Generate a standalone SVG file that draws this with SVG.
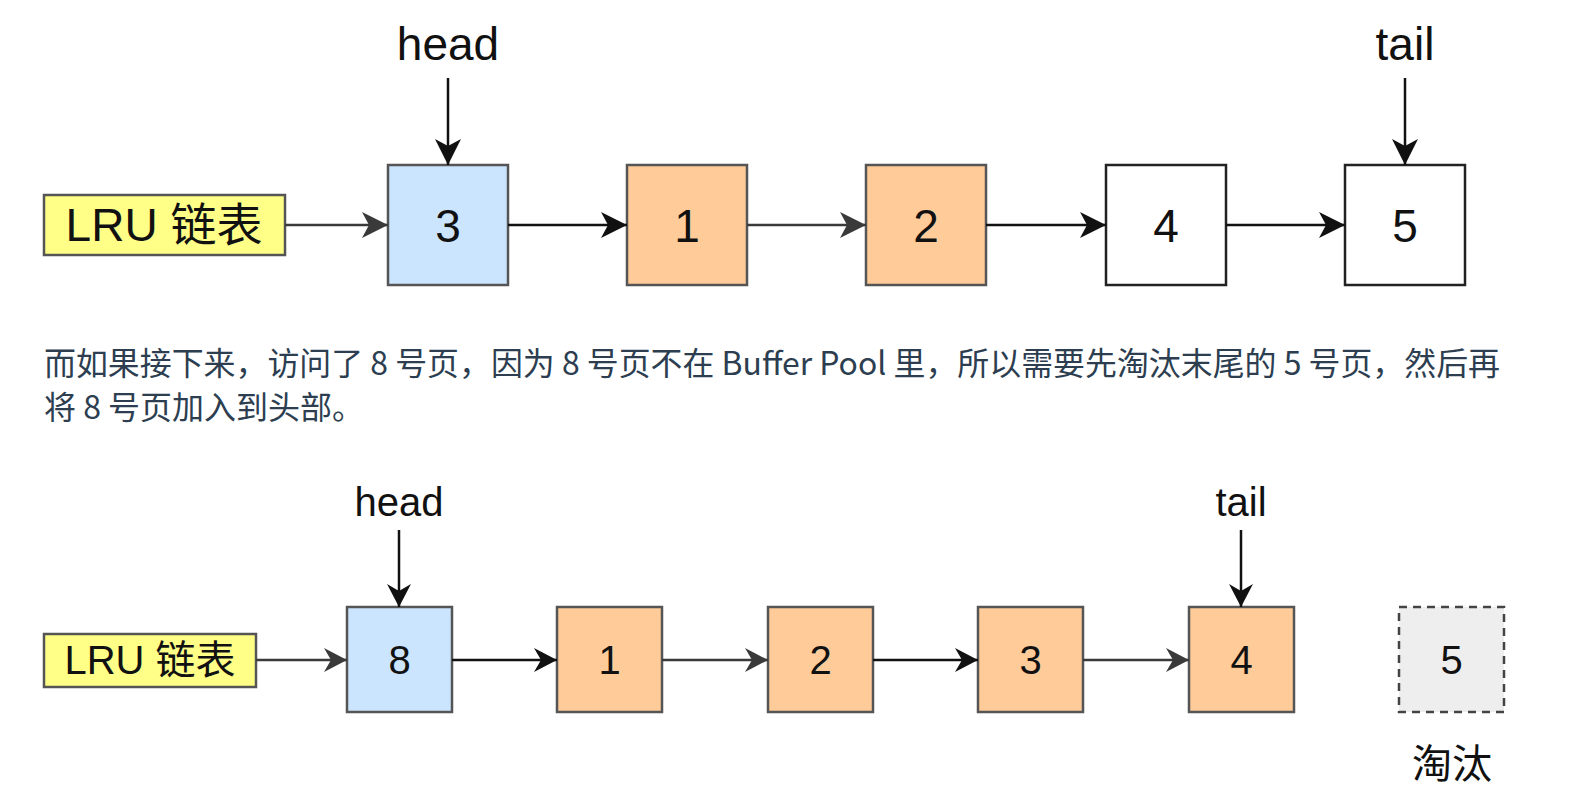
<svg xmlns="http://www.w3.org/2000/svg" width="1572" height="804" viewBox="0 0 1572 804">
<defs>
<marker id="ahk" viewBox="-28 -14 30 28" refX="0" refY="0" markerWidth="30" markerHeight="28" markerUnits="userSpaceOnUse" orient="auto">
<path d="M0,0 L-26,-13 L-19,0 L-26,13 Z" fill="#111"/>
</marker>
<marker id="ahg" viewBox="-28 -14 30 28" refX="0" refY="0" markerWidth="30" markerHeight="28" markerUnits="userSpaceOnUse" orient="auto">
<path d="M0,0 L-26,-13 L-19,0 L-26,13 Z" fill="#3a3a3a"/>
</marker>
<marker id="bhk" viewBox="-24 -13 26 26" refX="0" refY="0" markerWidth="26" markerHeight="26" markerUnits="userSpaceOnUse" orient="auto">
<path d="M0,0 L-23,-12 L-16,0 L-23,12 Z" fill="#111"/>
</marker>
<marker id="bhg" viewBox="-24 -13 26 26" refX="0" refY="0" markerWidth="26" markerHeight="26" markerUnits="userSpaceOnUse" orient="auto">
<path d="M0,0 L-23,-12 L-16,0 L-23,12 Z" fill="#3a3a3a"/>
</marker>
</defs>
<style>
.lab{font-family:"Liberation Sans","Noto Sans CJK SC",sans-serif;fill:#111;text-anchor:middle}
.t1{font-size:46px}
.t2{font-size:40px}
.blue{fill:#cce5ff;stroke:#555;stroke-width:2.5}
.org{fill:#ffcc99;stroke:#555;stroke-width:2.5}
.wht{fill:#fff;stroke:#222;stroke-width:2.5}
.yel{fill:#ffff88;stroke:#555;stroke-width:2.5}
.dsh{fill:#eeeeee;stroke:#444;stroke-width:2.5;stroke-dasharray:8 6}
.ck{stroke:#111;stroke-width:2.5;fill:none}
.cg{stroke:#3a3a3a;stroke-width:2.5;fill:none}
.para{font-family:"Noto Sans CJK SC","Noto Sans",sans-serif;font-size:32px;fill:#2c3e50}
</style>
<rect width="1572" height="804" fill="#fff"/>

<!-- top diagram -->
<g id="top-lru"><rect class="yel" x="44" y="195" width="241" height="60"/><text class="lab t1" x="164" y="241">LRU 链表</text></g>
<g id="top-n3"><rect class="blue" x="388" y="165" width="120" height="120"/><text class="lab t1" x="448" y="242">3</text></g>
<g id="top-n1"><rect class="org" x="627" y="165" width="120" height="120"/><text class="lab t1" x="687" y="242">1</text></g>
<g id="top-n2"><rect class="org" x="866" y="165" width="120" height="120"/><text class="lab t1" x="926" y="242">2</text></g>
<g id="top-n4"><rect class="wht" x="1106" y="165" width="120" height="120"/><text class="lab t1" x="1166" y="242">4</text></g>
<g id="top-n5"><rect class="wht" x="1345" y="165" width="120" height="120"/><text class="lab t1" x="1405" y="242">5</text></g>
<g id="top-head"><text class="lab t1" x="448" y="60">head</text></g>
<g id="top-tail"><text class="lab t1" x="1405" y="60">tail</text></g>

<g id="top-connectors">
<line class="cg" x1="285" y1="225" x2="388" y2="225" marker-end="url(#ahg)"/>
<line class="ck" x1="508" y1="225" x2="627" y2="225" marker-end="url(#ahk)"/>
<line class="cg" x1="747" y1="225" x2="866" y2="225" marker-end="url(#ahg)"/>
<line class="ck" x1="986" y1="225" x2="1106" y2="225" marker-end="url(#ahk)"/>
<line class="ck" x1="1226" y1="225" x2="1345" y2="225" marker-end="url(#ahk)"/>
<line class="ck" x1="448" y1="78" x2="448" y2="165" marker-end="url(#ahk)"/>
<line class="ck" x1="1405" y1="78" x2="1405" y2="165" marker-end="url(#ahk)"/>
</g>

<!-- paragraph -->
<text class="para" x="44" y="375" textLength="1456" lengthAdjust="spacingAndGlyphs">而如果接下来，访问了 8 号页，因为 8 号页不在 Buffer Pool 里，所以需要先淘汰末尾的 5 号页，然后再</text>
<text class="para" x="44" y="419">将 8 号页加入到头部。</text>

<!-- bottom diagram -->
<g id="bot-lru"><rect class="yel" x="44" y="634" width="212" height="53"/><text class="lab t2" x="150" y="674">LRU 链表</text></g>
<g id="bot-n8"><rect class="blue" x="347" y="607" width="105" height="105"/><text class="lab t2" x="399.5" y="674">8</text></g>
<g id="bot-n1"><rect class="org" x="557" y="607" width="105" height="105"/><text class="lab t2" x="609.5" y="674">1</text></g>
<g id="bot-n2"><rect class="org" x="768" y="607" width="105" height="105"/><text class="lab t2" x="820.5" y="674">2</text></g>
<g id="bot-n3"><rect class="org" x="978" y="607" width="105" height="105"/><text class="lab t2" x="1030.5" y="674">3</text></g>
<g id="bot-n4"><rect class="org" x="1189" y="607" width="105" height="105"/><text class="lab t2" x="1241.5" y="674">4</text></g>
<g id="bot-n5"><rect class="dsh" x="1399" y="607" width="105" height="105"/><text class="lab t2" x="1451.5" y="674">5</text></g>
<g id="bot-evict"><text class="lab t2" x="1452" y="778">淘汰</text></g>
<g id="bot-head"><text class="lab t2" x="399" y="516">head</text></g>
<g id="bot-tail"><text class="lab t2" x="1241" y="516">tail</text></g>

<g id="bot-connectors">
<line class="cg" x1="256" y1="660" x2="347" y2="660" marker-end="url(#bhg)"/>
<line class="ck" x1="452" y1="660" x2="557" y2="660" marker-end="url(#bhk)"/>
<line class="cg" x1="662" y1="660" x2="768" y2="660" marker-end="url(#bhg)"/>
<line class="ck" x1="873" y1="660" x2="978" y2="660" marker-end="url(#bhk)"/>
<line class="cg" x1="1083" y1="660" x2="1189" y2="660" marker-end="url(#bhg)"/>
<line class="ck" x1="399" y1="530" x2="399" y2="607" marker-end="url(#bhk)"/>
<line class="ck" x1="1241" y1="530" x2="1241" y2="607" marker-end="url(#bhk)"/>
</g>
</svg>
